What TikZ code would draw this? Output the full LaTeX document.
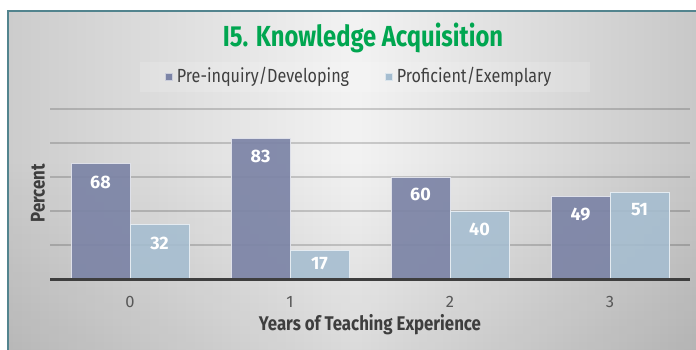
\documentclass[tikz,border=0pt]{standalone}
\usepackage{fontspec}
\setmainfont{Fira Sans}
\newfontfamily\narrowFont[FakeStretch=0.85]{Fira Sans}
\newfontfamily\titleFont[FakeStretch=0.82]{Fira Sans}
\usetikzlibrary{positioning,fadings}
\definecolor{frameTeal}{RGB}{82,132,142}
\definecolor{titleGreen}{RGB}{0,166,80}
\definecolor{devBlue}{RGB}{124,132,166}
\definecolor{profBlue}{RGB}{165,189,208}
\definecolor{axisGray}{RGB}{62,62,62}
\definecolor{tickGray}{RGB}{88,88,88}
\tikzset{
	barDark/.style={
		minimum height=#1*1.694pt
		,minimum width=59pt
		,inner sep=0pt, outer sep=0pt
		,anchor=south east
		,fill=devBlue, fill opacity=0.92
		,draw=white!75!devBlue, line width=0.8pt
	},
	barLight/.style={
		minimum height=#1*1.694pt
		,minimum width=59pt
		,inner sep=0pt, outer sep=0pt
		,anchor=south west
		,fill=profBlue, fill opacity=0.88
		,draw=white!70!profBlue, line width=0.8pt
	},
	valNum/.style={
		inner sep=0pt
		,text=white
		,font=\fontsize{18}{19}\selectfont\bfseries
	},
	tickNum/.style={
		text=tickGray
		,font=\fontsize{16.5}{18}\selectfont
	},
	axisTitle/.style={
		text=axisGray
		,font=\narrowFont\fontsize{19.8}{21}\selectfont\bfseries
	},
	legendKey/.style={
		minimum size=7pt, inner sep=0pt
		,fill=#1, draw=white!60!#1, line width=0.4pt
	},
	legendText/.style={
		inner sep=0pt, anchor=west
		,text=black!75
		,font=\narrowFont\fontsize{19}{21}\selectfont
	},
	gridLine/.style={
		draw=black, draw opacity=0.17, line width=1.2pt
	},
}

\begin{document}
\begin{tikzpicture}[x=1pt, y=-1pt]
\useasboundingbox (0,0) rectangle (696,350);
% panel background and frame
\fill[left color=black!20, right color=black!22, middle color=black!5] (8,11) rectangle (704,360);
\fill[black, fill opacity=0.1, path fading=north] (8,160) rectangle (704,360);
\draw[frameTeal, line width=2.2pt] (704,11) -- (8,11) -- (8,360);
% legend band
\fill[white, fill opacity=0.15] (140,62) rectangle (590,92);

\node[text=titleGreen, font=\titleFont\fontsize{29}{32}\selectfont\bfseries] (title) at (363,38) {I5. Knowledge Acquisition};

\node[legendKey=devBlue] (keyDev) at (169,77) {};
\node[legendText, right=4pt of keyDev] (txtDev) {Pre-inquiry/Developing};
\node[legendKey=profBlue] (keyProf) at (389,77) {};
\node[legendText, right=4pt of keyProf] (txtProf) {Proficient/Exemplary};

% grid
\draw[gridLine] (50,109) -- (690,109);
\draw[gridLine] (50,143) -- (690,143);
\draw[gridLine] (50,177) -- (690,177);
\draw[gridLine] (50,211) -- (690,211);
\draw[gridLine] (50,245) -- (690,245);

% bars
\node[barDark=68] (d0) at (130,279) {};
\node[barLight=32] (p0) at (130,279) {};
\node[barDark=83] (d1) at (290,279) {};
\node[barLight=17] (p1) at (290,279) {};
\node[barDark=60] (d2) at (450,279) {};
\node[barLight=40] (p2) at (450,279) {};
\node[barDark=49] (d3) at (610,279) {};
\node[barLight=51] (p3) at (610,279) {};

\node[valNum, below=12pt of d0.north] (d0n) {68};
\node[valNum, below=12pt of p0.north] (p0n) {32};
\node[valNum, below=11pt of d1.north] (d1n) {83};
\node[valNum, below=7pt of p1.north] (p1n) {17};
\node[valNum, below=11pt of d2.north] (d2n) {60};
\node[valNum, below=12pt of p2.north] (p2n) {40};
\node[valNum, below=12pt of d3.north] (d3n) {49};
\node[valNum, below=11pt of p3.north] (p3n) {51};

% axis
\draw[axisGray, line width=3pt] (50,279.5) -- (690,279.5);
\node[tickNum] (t0) at (130,302) {0};
\node[tickNum] (t1) at (290,302) {1};
\node[tickNum] (t2) at (450,302) {2};
\node[tickNum] (t3) at (610,302) {3};
\node[axisTitle] (xlab) at (370,325) {Years of Teaching Experience};
\node[axisTitle, rotate=90] (ylab) at (38,193) {Percent};
\end{tikzpicture}
\end{document}
